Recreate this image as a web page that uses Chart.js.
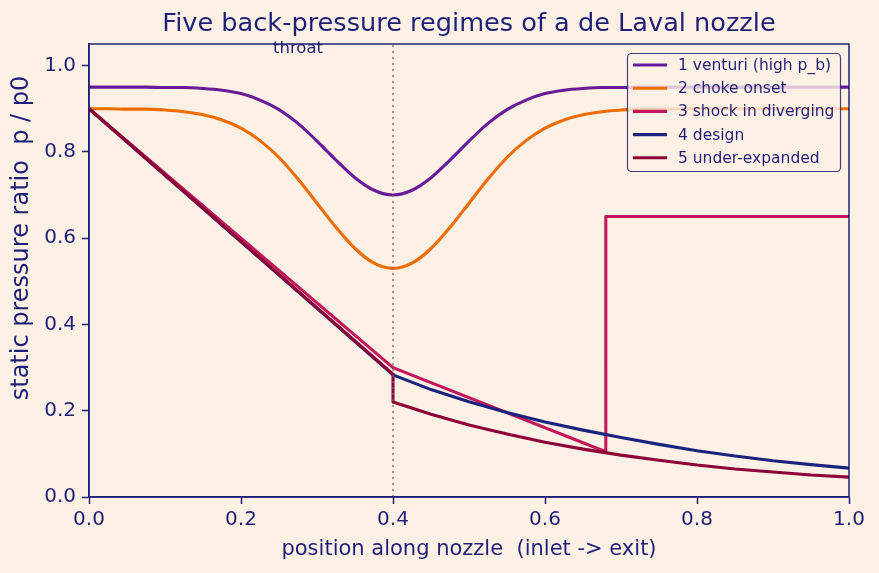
<!DOCTYPE html>
<html><head><meta charset="utf-8">
<script src="https://cdn.jsdelivr.net/npm/chart.js@4.4.1/dist/chart.umd.min.js"></script>
<style>html,body{margin:0;padding:0;background:#fdf1e6;}#wrap{width:879px;height:573px;position:relative;}</style>
</head><body><div id="wrap"><canvas id="c" width="879" height="573"></canvas></div>
<script>
// ---- data ----
const positionsSmooth = [0,0.025,0.05,0.075,0.1,0.125,0.15,0.175,0.2,0.225,0.25,0.275,0.3,0.325,0.35,0.375,0.4,0.425,0.45,0.475,0.5,0.525,0.55,0.575,0.6,0.625,0.65,0.675,0.7,0.725,0.75,0.775,0.8,0.825,0.85,0.875,0.9,0.925,0.95,0.975,1.0];
const venturiP = [0.950,0.950,0.950,0.950,0.949,0.949,0.947,0.943,0.935,0.920,0.898,0.866,0.825,0.781,0.740,0.711,0.700,0.711,0.740,0.781,0.825,0.866,0.898,0.920,0.935,0.943,0.947,0.949,0.949,0.950,0.950,0.950,0.950,0.950,0.950,0.950,0.950,0.950,0.950,0.950,0.950];
const chokeP = [0.900,0.900,0.899,0.899,0.897,0.893,0.886,0.874,0.855,0.826,0.787,0.737,0.681,0.625,0.576,0.542,0.530,0.542,0.576,0.625,0.681,0.737,0.787,0.826,0.855,0.874,0.886,0.893,0.897,0.899,0.899,0.900,0.900,0.900,0.900,0.900,0.900,0.900,0.900,0.900,0.900];
const shockX = [0,0.4,0.68,0.68,1.0];
const shockP = [0.90,0.30,0.105,0.65,0.65];
const designX = [0,0.4,0.45,0.5,0.55,0.6,0.65,0.7,0.75,0.8,0.85,0.9,0.95,1.0];
const designP = [0.90,0.283,0.249,0.221,0.196,0.174,0.155,0.138,0.122,0.107,0.095,0.084,0.075,0.067];
const underX = [0,0.4,0.4,0.45,0.5,0.55,0.6,0.65,0.7,0.75,0.8,0.85,0.9,0.95,1.0];
const underP = [0.90,0.285,0.22,0.192,0.167,0.146,0.127,0.111,0.097,0.085,0.074,0.065,0.058,0.051,0.046];
const throatX = 0.4;
const seriesLabels = ['1 venturi (high p_b)','2 choke onset','3 shock in diverging','4 design','5 under-expanded'];
const xTicks = [0,0.2,0.4,0.6,0.8,1.0];
const yTicks = [0,0.2,0.4,0.6,0.8,1.0];

// ---- styles ----
const BG = '#fdf1e6', INK = '#1f1f78';
const colors = ['#6a1b9a','#ef6c00','#c2185b','#1a237e','#8e0038'];
const FONT = "'DejaVu Sans', sans-serif";

const pts = (xs, ys) => xs.map((x, i) => ({x: x, y: ys[i]}));
const seriesData = [
  pts(positionsSmooth, venturiP),
  pts(positionsSmooth, chokeP),
  pts(shockX, shockP),
  pts(designX, designP),
  pts(underX, underP)
];
const datasets = seriesData.map((d, i) => ({
  label: seriesLabels[i], data: d, borderColor: colors[i], backgroundColor: colors[i],
  borderWidth: 3.1, pointRadius: 0, fill: false, order: 5 - i,
  cubicInterpolationMode: i < 2 ? 'monotone' : 'default', tension: 0,
  borderJoinStyle: 'round', borderCapStyle: 'butt'
}));
datasets.push({
  label: 'throat', data: [{x: throatX, y: 0}, {x: throatX, y: 1.05}],
  borderColor: 'rgba(110,110,110,0.85)', borderWidth: 1.6, borderDash: [2, 4],
  pointRadius: 0, order: -1
});

const deco = {
  id: 'deco',
  beforeDraw(chart) {
    const ctx = chart.ctx;
    ctx.save(); ctx.fillStyle = BG; ctx.fillRect(0, 0, chart.width, chart.height); ctx.restore();
  },
  afterDraw(chart) {
    const ctx = chart.ctx, a = chart.chartArea;
    const xs = chart.scales.x, ys = chart.scales.y;
    ctx.save();
    // spines
    ctx.strokeStyle = INK; ctx.lineWidth = 1.5;
    ctx.strokeRect(a.left, a.top, a.right - a.left, a.bottom - a.top);
    // title
    ctx.fillStyle = INK; ctx.textAlign = 'center'; ctx.textBaseline = 'middle';
    ctx.font = "25.6px " + FONT;
    ctx.fillText('Five back-pressure regimes of a de Laval nozzle', (a.left + a.right) / 2, 24);
    // axis titles
    ctx.font = "21px " + FONT;
    ctx.fillText('position along nozzle  (inlet -> exit)', (a.left + a.right) / 2, 550);
    ctx.save();
    ctx.font = "24px " + FONT;
    ctx.translate(22, 238); ctx.rotate(-Math.PI / 2);
    ctx.fillText('static pressure ratio  p / p0', 0, 0);
    ctx.restore();
    // throat annotation
    ctx.font = "16.5px " + FONT;
    ctx.fillText('throat', xs.getPixelForValue(0.275), ys.getPixelForValue(1.039));
    // legend
    const lx = 627.5, ly = 53.5, lw = 213, lh = 118;
    ctx.beginPath();
    ctx.roundRect(lx, ly, lw, lh, 4);
    ctx.fillStyle = 'rgba(253,241,230,0.8)'; ctx.fill();
    ctx.strokeStyle = 'rgba(31,31,120,0.85)'; ctx.lineWidth = 1.2; ctx.stroke();
    ctx.font = "15.5px " + FONT; ctx.textAlign = 'left'; ctx.textBaseline = 'middle';
    seriesLabels.forEach((lab, i) => {
      const yy = 65 + i * 23.2;
      ctx.strokeStyle = colors[i]; ctx.lineWidth = 3.1;
      ctx.beginPath(); ctx.moveTo(633, yy); ctx.lineTo(667, yy); ctx.stroke();
      ctx.fillStyle = INK; ctx.fillText(lab, 678, yy + 1);
    });
    ctx.restore();
  }
};

new Chart(document.getElementById('c'), {
  type: 'line',
  data: {datasets: datasets},
  plugins: [deco],
  options: {
    responsive: false, animation: false, devicePixelRatio: 1,
    layout: {padding: {left: 0, right: 30, top: 44, bottom: 0}},
    plugins: {legend: {display: false}, tooltip: {enabled: false}, title: {display: false}},
    scales: {
      x: {
        type: 'linear', min: 0, max: 1,
        afterFit: s => { s.height = 76; },
        afterBuildTicks: s => { s.ticks = xTicks.map(v => ({value: v})); },
        ticks: {callback: v => v.toFixed(1), color: INK, font: {family: FONT, size: 20}, padding: 4, maxRotation: 0, autoSkip: false},
        grid: {drawOnChartArea: false, drawTicks: true, tickLength: 7, color: INK, tickWidth: 1.5},
        border: {display: true, color: INK, width: 1.5}
      },
      y: {
        type: 'linear', min: 0, max: 1.05,
        afterFit: s => { s.width = 89; },
        afterBuildTicks: s => { s.ticks = yTicks.map(v => ({value: v})); },
        ticks: {callback: v => v.toFixed(1), color: INK, font: {family: FONT, size: 20}, padding: 6, autoSkip: false},
        grid: {drawOnChartArea: false, drawTicks: true, tickLength: 7, color: INK, tickWidth: 1.5},
        border: {display: true, color: INK, width: 1.5}
      }
    }
  }
});
</script></body></html>
